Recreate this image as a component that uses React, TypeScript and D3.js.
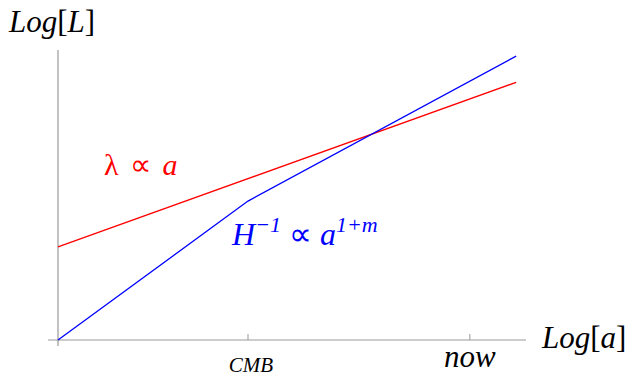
import { useEffect, useRef } from "react";
import * as d3 from "d3";

// log a (arbitrary units), log L (arbitrary units)
const redX = [0, 9.79];
const redY = [1.99, 5.51];
const blueX = [0, 4.06, 9.79];
const blueY = [0, 2.97, 6.07];
const tickPos = [4.06, 8.8];
const tickLabels = ["CMB", "now"];

const W = 632;
const H = 381;

const App = () => {
  const ref = useRef<SVGSVGElement | null>(null);

  useEffect(() => {
    if (!ref.current) return;
    const svg = d3.select(ref.current);
    svg.selectAll("*").remove();

    const x = d3.scaleLinear().domain([0, 10]).range([58, 526]);
    const y = d3.scaleLinear().domain([0, 6.2]).range([340, 50]);
    const font = "'Liberation Serif', 'Times New Roman', serif";

    // ejes
    svg.append("line")
      .attr("x1", 48).attr("x2", x(10))
      .attr("y1", y(0)).attr("y2", y(0))
      .attr("stroke", "#999").attr("stroke-width", 1.2);
    svg.append("line")
      .attr("x1", x(0)).attr("x2", x(0))
      .attr("y1", y(0) + 6).attr("y2", y(6.2))
      .attr("stroke", "#999").attr("stroke-width", 1.2);

    tickPos.forEach((t, i) => {
      svg.append("line")
        .attr("x1", x(t)).attr("x2", x(t))
        .attr("y1", y(0)).attr("y2", y(0) - 6)
        .attr("stroke", "#999").attr("stroke-width", 1);
      svg.append("text")
        .attr("x", x(t) + (i === 0 ? 3 : 0)).attr("y", i === 0 ? 372 : 367)
        .attr("text-anchor", "middle")
        .style("font-family", font)
        .style("font-style", "italic")
        .style("font-size", i === 0 ? "21px" : "31px")
        .text(tickLabels[i]);
    });

    const red = redX.map((v, i) => [x(v), y(redY[i])] as [number, number]);
    const blue = blueX.map((v, i) => [x(v), y(blueY[i])] as [number, number]);
    const path = d3.line();

    svg.append("path").attr("d", path(red)).attr("fill", "none")
      .attr("stroke", "#ff0000").attr("stroke-width", 1.3);
    svg.append("path").attr("d", path(blue)).attr("fill", "none")
      .attr("stroke", "#0000ff").attr("stroke-width", 1.3);

    // etiquetas de ejes
    const axisLabel = (tx: number, ty: number, v: string) => {
      const t = svg.append("text").attr("x", tx).attr("y", ty)
        .style("font-family", font).style("font-size", "31px");
      t.append("tspan").style("font-style", "italic").text("Log");
      t.append("tspan").text("[");
      t.append("tspan").style("font-style", "italic").text(v);
      t.append("tspan").text("]");
    };
    axisLabel(9, 32, "L");
    axisLabel(542, 348, "a");

    // leyendas
    const lam = svg.append("text").attr("x", 104).attr("y", 175)
      .attr("fill", "#ff0000")
      .style("font-family", font).style("font-size", "30px")
      .style("word-spacing", "4px");
    lam.append("tspan").text("λ ∝ ");
    lam.append("tspan").style("font-style", "italic").text("a");

    const hub = svg.append("text").attr("x", 232).attr("y", 245)
      .attr("fill", "#0000ff")
      .style("font-family", font).style("font-size", "32px");
    hub.append("tspan").style("font-style", "italic").text("H");
    hub.append("tspan").attr("dy", -13).style("font-size", "22px")
      .style("font-style", "italic").text("−1");
    hub.append("tspan").attr("dy", 13).text(" ∝ ");
    hub.append("tspan").style("font-style", "italic").text("a");
    hub.append("tspan").attr("dy", -13).style("font-size", "22px")
      .style("font-style", "italic").text("1+m");
  }, []);

  return <svg ref={ref} width={W} height={H} style={{ position: "absolute", left: 0, top: 0 }} />;
};

export default App;
